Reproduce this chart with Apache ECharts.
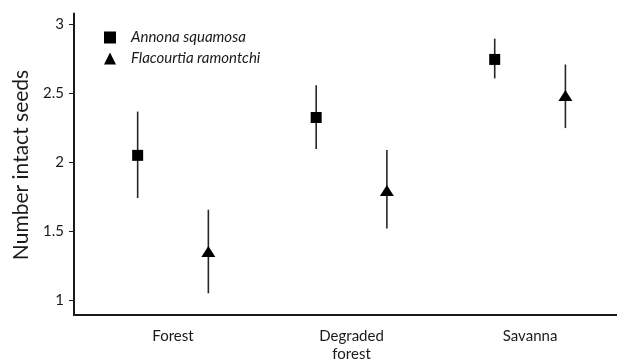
<!DOCTYPE html>
<html>
<head>
<meta charset="utf-8">
<script src="https://cdn.jsdelivr.net/npm/echarts@6/dist/echarts.min.js"></script>
<style>html,body{margin:0;padding:0;background:#fff}#c{width:617px;height:363px}</style>
</head>
<body>
<div id="c"></div>
<script>
const categories = ['Forest', 'Degraded\nforest', 'Savanna'];
const yTicks = [1, 1.5, 2, 2.5, 3];
const annonaMean = [2.05, 2.325, 2.747];
const annonaLow = [1.74, 2.096, 2.609];
const annonaHigh = [2.368, 2.56, 2.898];
const flacMean = [1.352, 1.795, 2.484];
const flacLow = [1.048, 1.518, 2.248];
const flacHigh = [1.655, 2.089, 2.71];

const OFF = 0.198;
const font = 'Lato';
const chart = echarts.init(document.getElementById('c'), null, {renderer: 'canvas'});

function pts(mean, off) { return mean.map((v, i) => [i + off, v]); }
function bars(low, high, off) { return low.map((v, i) => [i + off, v, high[i]]); }

function errRender(params, api) {
  const x = api.value(0);
  const p1 = api.coord([x, api.value(1)]);
  const p2 = api.coord([x, api.value(2)]);
  return {
    type: 'line',
    shape: {x1: p1[0], y1: p1[1], x2: p2[0], y2: p2[1]},
    style: {stroke: '#262626', lineWidth: 1.6}
  };
}

chart.setOption({
  animation: false,
  backgroundColor: '#fff',
  grid: {left: 74, right: 0, top: 13.6, bottom: 46.3, containLabel: false},
  legend: {
    orient: 'vertical', left: 99, top: 25, itemWidth: 12, itemHeight: 12, itemGap: 6,
    data: ['Annona squamosa', 'Flacourtia ramontchi'],
    textStyle: {fontFamily: font, fontStyle: 'italic', fontSize: 15, color: '#1a1a1a', padding: [0, 0, 0, 10]}
  },
  xAxis: {
    type: 'value', min: -0.5546, max: 2.487,
    splitLine: {show: false},
    axisLine: {show: true, onZero: false, lineStyle: {color: '#1a1a1a', width: 2}},
    axisTick: {show: false},
    axisLabel: {
      customValues: [0, 1, 2],
      formatter: v => categories[Math.round(v)],
      fontFamily: font, fontSize: 15, color: '#1a1a1a', margin: 12, lineHeight: 18
    }
  },
  yAxis: {
    type: 'value', min: 0.89, max: 3.08,
    splitLine: {show: false},
    axisLine: {show: true, onZero: false, lineStyle: {color: '#1a1a1a', width: 2}},
    axisTick: {show: true, customValues: yTicks, length: 5, lineStyle: {color: '#1a1a1a', width: 1}},
    axisLabel: {
      customValues: yTicks, formatter: v => String(v),
      fontFamily: font, fontSize: 15, color: '#1a1a1a', margin: 10
    }
  },
  graphic: [{
    type: 'text', x: 21, y: 165, rotation: Math.PI / 2,
    style: {text: 'Number intact seeds', fontFamily: font, fontSize: 21, fill: '#1a1a1a',
            align: 'center', verticalAlign: 'middle'}
  }],
  series: [
    {type: 'custom', name: 'errA', renderItem: errRender, data: bars(annonaLow, annonaHigh, -OFF), z: 1},
    {type: 'custom', name: 'errF', renderItem: errRender, data: bars(flacLow, flacHigh, OFF), z: 1},
    {type: 'scatter', name: 'Annona squamosa', symbol: 'rect', symbolSize: 11,
     itemStyle: {color: '#000', opacity: 1}, data: pts(annonaMean, -OFF), z: 3},
    {type: 'scatter', name: 'Flacourtia ramontchi', symbol: 'triangle', symbolSize: [14, 11],
     itemStyle: {color: '#000', opacity: 1}, data: pts(flacMean, OFF), z: 3}
  ]
});
</script>
</body>
</html>
